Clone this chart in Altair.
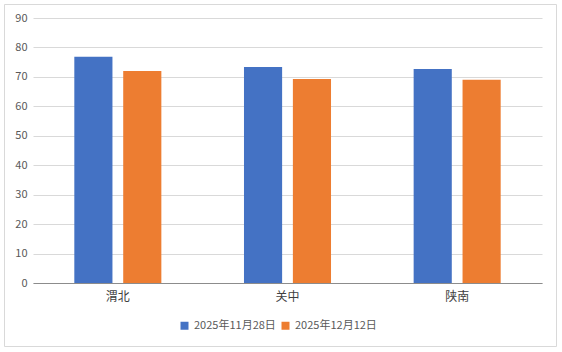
import altair as alt
import pandas as pd

regions = ["渭北", "关中", "陕南"]
series = ["2025年11月28日", "2025年12月12日"]
values_1128 = [76.8, 73.4, 72.7]
values_1212 = [72.0, 69.3, 69.0]
colors = ["#4472C4", "#ED7D31"]
y_ticks = [0, 10, 20, 30, 40, 50, 60, 70, 80, 90]

rows = []
for i, r in enumerate(regions):
    rows.append({"region": r, "series": series[0], "value": values_1128[i]})
    rows.append({"region": r, "series": series[1], "value": values_1212[i]})
df = pd.DataFrame(rows)

FONT = "Noto Sans CJK SC"

bars = alt.Chart(df).mark_bar().encode(
    x=alt.X("region:N", sort=regions, title=None,
            scale=alt.Scale(paddingInner=0.487, paddingOuter=0.2435),
            axis=alt.Axis(labelAngle=0, ticks=False, domainColor="#8c8c8c",
                          labelColor="#404040", labelFontSize=12, labelPadding=8,
                          labelFont=FONT)),
    xOffset=alt.XOffset("series:N", sort=series,
                        scale=alt.Scale(paddingInner=0.22, paddingOuter=0)),
    y=alt.Y("value:Q", title=None,
            scale=alt.Scale(domain=[0, 90], nice=False),
            axis=alt.Axis(values=y_ticks, ticks=False, domain=False,
                          gridColor="#d9d9d9", labelColor="#595959",
                          labelFontSize=11, labelPadding=6, labelFont=FONT)),
    color=alt.Color("series:N", sort=series,
                    scale=alt.Scale(domain=series, range=colors),
                    legend=alt.Legend(title=None, orient="none", direction="horizontal",
                                      legendX=146, legendY=302, symbolType="square",
                                      symbolSize=64, symbolStrokeWidth=0,
                                      labelFontSize=11, labelColor="#595959",
                                      labelFont=FONT, columnPadding=4, labelOffset=4)),
)

frame = alt.Chart(pd.DataFrame({"a": [0]})).mark_rect(
    fill=None, stroke="#d9d9d9", strokeWidth=1, clip=False
).encode(
    x=alt.value(-28.5), x2=alt.value(523.5),
    y=alt.value(-13.5), y2=alt.value(328.5),
)

chart = alt.layer(bars, frame).properties(
    width=509, height=265,
    padding={"left": 33, "top": 18, "right": 20, "bottom": 69},
    autosize=alt.AutoSizeParams(type="none"),
    background="white",
).configure_view(stroke=None)

chart.save("out.html", embed_options={"renderer": "svg", "actions": False})
